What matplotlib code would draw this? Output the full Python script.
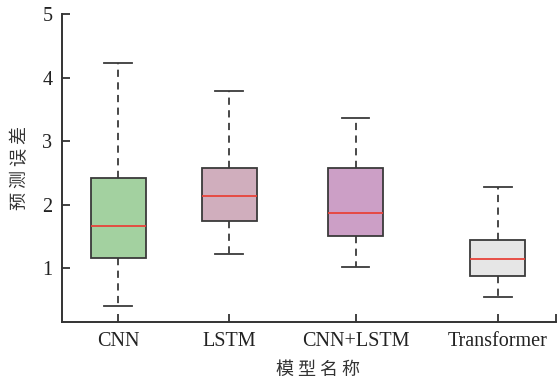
import matplotlib.pyplot as plt

# model names and box-plot summary values
models = ["CNN", "LSTM", "CNN+LSTM", "Transformer"]
whis_low = [0.40, 1.22, 1.02, 0.54]
q1 = [1.16, 1.735, 1.51, 0.88]
median = [1.655, 2.14, 1.865, 1.14]
q3 = [2.42, 2.575, 2.575, 1.445]
whis_high = [4.23, 3.79, 3.36, 2.275]
colors = ["#a3d1a0", "#d0aebd", "#cc9fc6", "#e6e6e6"]

plt.rcParams['font.family'] = ['Liberation Serif', 'Noto Sans CJK SC']

stats = []
for name, lo, a, m, b, hi in zip(models, whis_low, q1, median, q3, whis_high):
    stats.append({"label": name, "whislo": lo, "q1": a, "med": m, "q3": b, "whishi": hi, "fliers": []})

fig = plt.figure(figsize=(5.59, 3.82), dpi=100)
ax = fig.add_axes([0.111, 0.157, 0.884, 0.806])

positions = [0.567, 1.69, 2.97, 4.41]
bp = ax.bxp(stats, positions=positions, widths=0.557, patch_artist=True,
            showfliers=False,
            boxprops=dict(edgecolor="#3a3a3a", linewidth=1.3),
            medianprops=dict(color="#e8433a", linewidth=1.3),
            whiskerprops=dict(color="#3a3a3a", linewidth=1.3, linestyle=(0, (4, 3))),
            capprops=dict(color="#3a3a3a", linewidth=1.3),
            capwidths=0.28)
for patch, c in zip(bp["boxes"], colors):
    patch.set_facecolor(c)

ax.set_xlim(0, 5)
ax.set_ylim(0.15, 5)
ax.set_xticks(positions + [5])
ax.set_xticklabels(models + [""])
ax.set_yticks([1, 2, 3, 4, 5])

for s in ["top", "right"]:
    ax.spines[s].set_visible(False)
for s in ["left", "bottom"]:
    ax.spines[s].set_linewidth(1.4)
    ax.spines[s].set_color("#333333")

ax.tick_params(direction="in", length=6, width=1.3, color="#333333",
               labelsize=14.5, labelcolor="#222222", pad=7)

# axis titles, spaced out like the original
cjk = ['Noto Sans CJK SC']
fig.text(0.569, 0.031, "模 型 名 称", fontsize=13, family=cjk, color="#333333",
         ha="center", va="center")
fig.text(0.036, 0.56, "预 测 误 差", fontsize=13, family=cjk, color="#333333",
         ha="center", va="center", rotation=90)

fig.savefig("out.png", dpi=100)
